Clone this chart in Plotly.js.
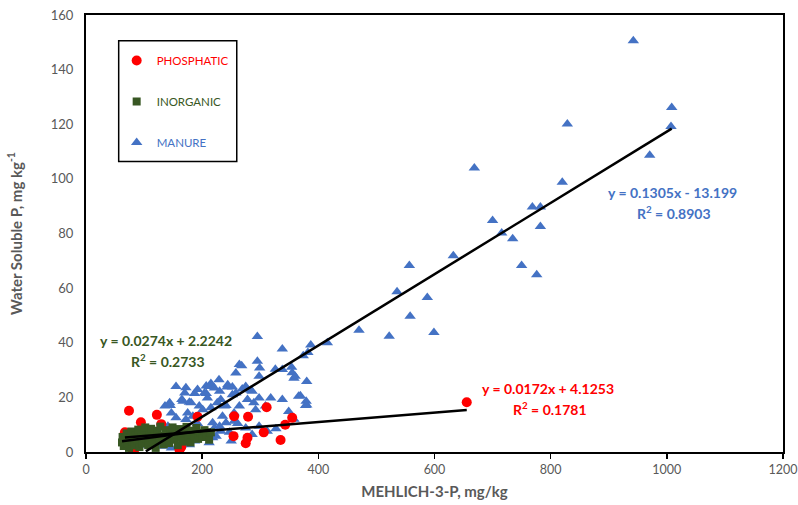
<!DOCTYPE html>
<html><head><meta charset="utf-8">
<script src="https://cdn.plot.ly/plotly-3.0.1.min.js"></script>
<style>html,body{margin:0;padding:0;background:#fff}#chart{width:798px;height:505px}</style>
</head><body><div id="chart"></div>
<script>
// ---- data ----
const seriesNames = ["PHOSPHATIC", "INORGANIC", "MANURE"];
const seriesColors = ["#FF0000", "#385723", "#4472C4"];

const phosphaticX = [74,122,94.5,129.6,67,84,81,161,164,192,255,279,311,343,306,278,275,335,254,355,655.5];
const phosphaticY = [15.1,13.6,10.9,10.2,7.2,1.2,0.3,0.8,1.8,12.9,13.1,12.9,16.4,10,7.2,5.2,3.2,4.4,5.8,12.5,18.2];

const inorganicX = [62,63,65,68,70,72,74,76,78,80,83,85,88,90,92,95,97,100,102,104,107,110,112,115,118,120,123,126,128,131,134,137,140,143,146,149,152,155,158,161,164,167,170,173,176,180,183,186,190,193,197,200,204,208,212,215];
const inorganicY = [3.5,5.5,2.2,4.5,6.8,3,1.5,5.2,7.5,3.8,2.4,6,4.2,8.2,1.8,5.5,3.2,7,9,4.8,2.5,6.2,8.5,3.8,5.8,1.5,7.8,4.2,9.3,6,2.8,8,5,3.3,7.2,9,4.5,6.5,2.5,8.4,5.2,3.8,7,9.2,5.8,3.5,7.8,6,8.8,4.8,7,5.5,8,6.4,4.5,7.2];

const manureX = [295,338,387,382,374,415.5,470,522,535.5,558,587.6,599,556.7,632.4,668.6,700,715.7,734.6,750,776,768.5,782.3,782.3,820,828.7,942.3,970.5,1008.4,1007.2,
  354,358,338,380,369,379,380,349,358,295,299,298,326,355,264,258,268,229,244,252,269,284,298,318,258,278,360,286,252,289,238,264,232,226,241,255,292,309,338,366,378,201,235,241,261,221,232,247,218,207,255,275,298,312,286,224,250,212,327,275,243,
  155,172,207,215,212,221,187,207,230,136,145,165,178,209,195,215,184,155,172,192,218,230,207,144,138,130,184,178,147,170,144,167,181,192,204,175,147,141,135,164,187,201,103];
const manureY = [42.3,37.7,39.2,36.4,35.2,40,44.6,42.4,58.7,49.7,56.6,43.8,68.3,71.9,104,84.8,80.2,78.1,68.3,64.9,89.7,89.7,82.6,98.8,120.1,150.6,108.7,126.1,119.2,
  31,27,30.2,25.8,20.6,18.6,17.2,14.8,12,33.2,30.8,27.7,30.3,29,32,28.9,31.6,26.5,24.6,23.8,23.1,22.6,19.8,19.8,21.6,19.2,27.7,22.2,21,18,16.8,16.8,19.2,18,17,14.3,15.5,16.8,19.2,20.4,17,15.5,13.1,10.7,10.4,8.8,7.6,7.2,5.2,5.8,11.3,8.8,9.4,7.6,6.4,5.8,4,3.4,8.5,24,23.8,
  24,23.5,24.2,25.1,24,23.4,21.4,21.4,22.2,16.8,17,19.2,18.2,19.8,16.8,16.2,13.1,12.5,11.9,10.4,10.7,9.4,7.6,7.6,4.6,2.1,4.6,2.7,1.5,21.6,18,18.6,18,22.9,21.6,14.3,14.3,9.4,2.7,2.7,4,7,2.5];

// trendline coefficients as printed on the chart
const trendSlopes = [0.0172, 0.0274, 0.1305];
const trendIntercepts = [4.1253, 2.2242, -13.199];
const trendR2 = ["0.1781", "0.2733", "0.8903"];
const eqTexts = ["y = 0.0172x + 4.1253", "y = 0.0274x + 2.2242", "y = 0.1305x - 13.199"];

const xTickVals = [0,200,400,600,800,1000,1200];
const yTickVals = [0,20,40,60,80,100,120,140,160];

// ---- build ----
const FONT = "Lato, Carlito, Calibri, 'Open Sans', sans-serif";
const xs = [phosphaticX, inorganicX, manureX];
const ys = [phosphaticY, inorganicY, manureY];
const symbols = ["circle", "square", "triangle-up"];
const sizes = [10, 8, 10];
const drawOrder = [2, 0, 1];

const traces = [];
drawOrder.forEach(i => {
  traces.push({
    type: "scatter", mode: "markers", x: xs[i], y: ys[i],
    name: '<span style="color:' + seriesColors[i] + '">' + seriesNames[i] + '</span>',
    legendrank: i + 1,
    legendgroup: "g" + i,
    marker: {symbol: symbols[i], size: sizes[i], color: seriesColors[i], line: {width: 0}},
    hoverinfo: "x+y"
  });
});
[0, 1, 2].forEach(i => {
  const xmin = Math.min(...xs[i]), xmax = Math.max(...xs[i]);
  const lx = [xmin, xmax];
  const ly = lx.map(v => trendSlopes[i] * v + trendIntercepts[i]);
  traces.push({
    type: "scatter", mode: "lines", x: lx, y: ly, showlegend: false,
    line: {color: "#000000", width: 2.5}, hoverinfo: "skip"
  });
});

// annotation placement (paper coords)
const eqPos = [[0.663, 0.145], [0.115, 0.255], [0.841, 0.593]];
const annotations = [];
[0, 1, 2].forEach(i => {
  annotations.push({xref: "paper", yref: "paper", x: eqPos[i][0], y: eqPos[i][1], xanchor: "center", yanchor: "middle",
    showarrow: false, text: "<b>" + eqTexts[i] + "</b>", font: {family: FONT, size: 14, color: seriesColors[i]}});
  annotations.push({xref: "paper", yref: "paper", x: eqPos[i][0] + 0.002, y: eqPos[i][1] - 0.045, xanchor: "center", yanchor: "middle",
    showarrow: false, text: "<b>R<sup>2</sup> = " + trendR2[i] + "</b>", font: {family: FONT, size: 14, color: seriesColors[i]}});
});

const layout = {
  width: 798, height: 505,
  margin: {l: 86, r: 15, t: 15, b: 53},
  paper_bgcolor: "#ffffff", plot_bgcolor: "#ffffff",
  font: {family: FONT, color: "#595959"},
  showlegend: true,
  legend: {x: 0.044, y: 0.929, xanchor: "left", yanchor: "top", bgcolor: "rgba(0,0,0,0)", borderwidth: 0,
    traceorder: "grouped", tracegroupgap: 22, font: {family: FONT, size: 11.5}},
  xaxis: {range: [-0.01, 1200.01], tickvals: xTickVals, ticks: "outside", ticklen: 5, tickwidth: 1.5, tickcolor: "#000",
    showline: true, linecolor: "#000", linewidth: 2, mirror: true, showgrid: false, zeroline: false,
    tickfont: {family: FONT, size: 12.5, color: "#595959"}, automargin: false, ticklabeloverflow: "allow",
    title: {text: "<b>MEHLICH-3-P, mg/kg</b>", standoff: 10, font: {family: FONT, size: 15, color: "#595959"}}},
  yaxis: {range: [0, 160.01], tickvals: yTickVals, ticks: "", showline: true, linecolor: "#000", linewidth: 2, mirror: true,
    showgrid: false, zeroline: false, ticklabelstandoff: 8, automargin: false, ticklabeloverflow: "allow",
    tickfont: {family: FONT, size: 13, color: "#595959"},
    title: {text: "<b>Water Soluble P, mg kg<sup>-1</sup></b>", standoff: 25, font: {family: FONT, size: 15, color: "#595959"}}},
  shapes: [{type: "rect", xref: "paper", yref: "paper", x0: 0.0469, x1: 0.2163, y0: 0.6647, y1: 0.9413,
    line: {color: "#000", width: 1.5}, fillcolor: "rgba(0,0,0,0)"}],
  annotations: annotations
};

Plotly.newPlot("chart", traces, layout, {displayModeBar: false, staticPlot: true});
</script>
</body></html>
